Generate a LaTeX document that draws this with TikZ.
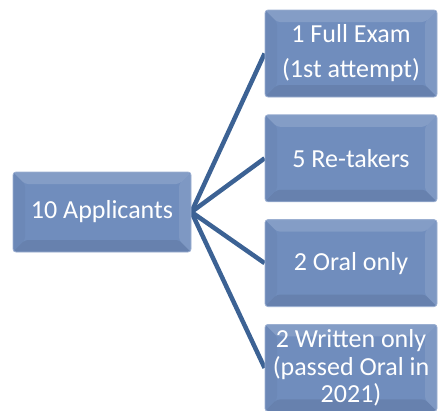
\documentclass[tikz,border=0pt]{standalone}
\usepackage{fontspec}
\setmainfont{Carlito}
\usetikzlibrary{positioning,backgrounds}
\definecolor{boxblue}{RGB}{112,141,189}
\definecolor{linkblue}{RGB}{60,98,148}
\def\bevel{
    \path (path picture bounding box.north west) coordinate (bnw)
          (path picture bounding box.north east) coordinate (bne)
          (path picture bounding box.south east) coordinate (bse)
          (path picture bounding box.south west) coordinate (bsw);
    \fill[white,opacity=.14] (bnw) -- (bne) -- ([shift={(-12pt,-12pt)}]bne) -- ([shift={(12pt,-12pt)}]bnw) -- cycle;
    \fill[white,opacity=.1] (bne) -- (bse) -- ([shift={(-12pt,12pt)}]bse) -- ([shift={(-12pt,-12pt)}]bne) -- cycle;
    \fill[black,opacity=.08] (bse) -- (bsw) -- ([shift={(12pt,12pt)}]bsw) -- ([shift={(-12pt,12pt)}]bse) -- cycle;
    \fill[black,opacity=.03] (bsw) -- (bnw) -- ([shift={(12pt,-12pt)}]bnw) -- ([shift={(12pt,12pt)}]bsw) -- cycle;
}
\tikzset{
    block/.style={rectangle, rounded corners=3pt, fill=boxblue, draw=boxblue!70!white,
        line width=.8pt, text=white, align=center, inner sep=0pt,
        font=\fontsize{26}{27.5}\selectfont, path picture={\bevel}},
    group/.style={block, minimum width=172pt, minimum height=87pt},
    link/.style={draw=linkblue, line width=4.5pt}
}

\begin{document}
\begin{tikzpicture}[x=1pt,y=-1pt]
    \useasboundingbox (0,0) rectangle (438,410);
    \node[block, minimum width=178pt, minimum height=80pt] (app) at (102,212) {10 Applicants};
    \node[group] (full) at (351,53.5) {1 Full Exam\\[7.5pt](1st attempt)};
    \node[group, below=17pt of full] (retake) {5 Re-takers};
    \node[group, below=17pt of retake] (oral) {2 Oral only};
    \node[group, below=17pt of oral] (written) {2 Written only\\(passed Oral in\\2021)};
    \begin{pgfonlayer}{background}
        \foreach \g in {full,retake,oral,written}
            \draw[link] (app.east) -- (\g.west);
    \end{pgfonlayer}
\end{tikzpicture}
\end{document}
